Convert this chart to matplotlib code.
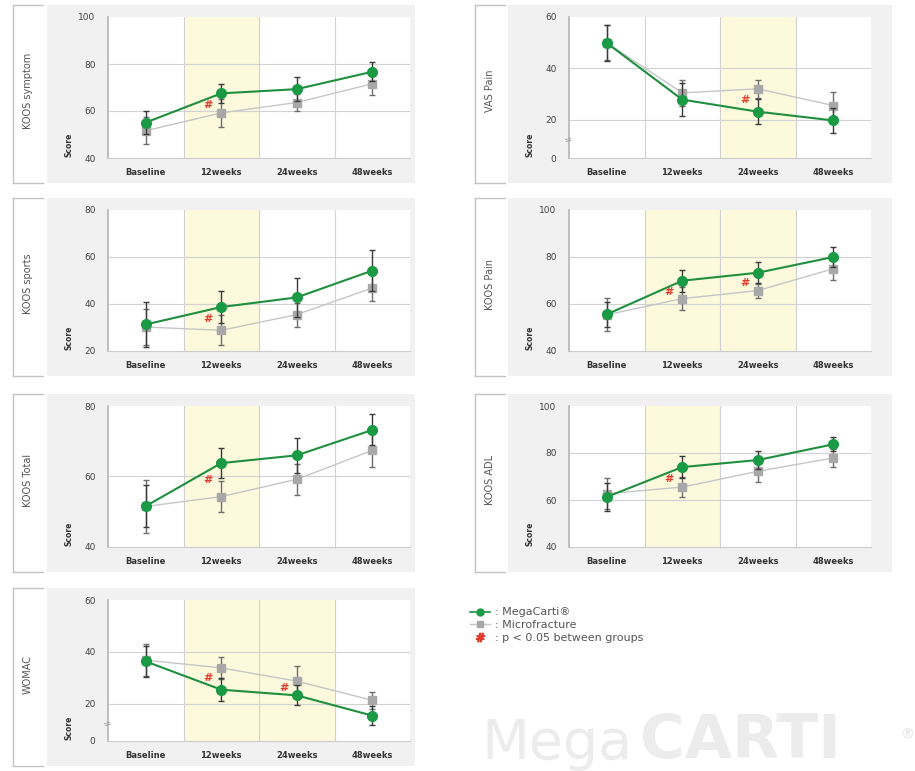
# Librerias

import numpy as np
import matplotlib.pyplot as plt
from matplotlib.lines import Line2D
from matplotlib.transforms import blended_transform_factory

# Datos

categorias = ["Baseline", "12weeks", "24weeks", "48weeks"]

titulos = ["KOOS symptom", "VAS Pain", "KOOS sports", "KOOS Pain",
           "KOOS Total", "KOOS ADL", "WOMAC"]

# MegaCarti (media, desviacion)
mega_symptom = [55.1, 67.5, 69.3, 76.7]
mega_symptom_err = [4.7, 4.0, 5.0, 4.0]
mega_vas = [49.9, 27.9, 23.2, 19.8]
mega_vas_err = [7.0, 6.5, 4.8, 5.0]
mega_sports = [31.3, 38.7, 42.8, 54.2]
mega_sports_err = [9.4, 6.8, 8.3, 8.8]
mega_pain = [55.6, 69.9, 73.3, 80.0]
mega_pain_err = [5.2, 4.7, 4.4, 4.4]
mega_total = [51.6, 63.8, 66.0, 73.2]
mega_total_err = [6.0, 4.2, 5.0, 4.4]
mega_adl = [61.3, 74.0, 77.0, 83.7]
mega_adl_err = [6.1, 4.6, 3.9, 3.0]
mega_womac = [36.3, 25.4, 23.2, 15.4]
mega_womac_err = [6.0, 4.5, 3.9, 3.8]

# Microfracture (media, desviacion)
micro_symptom = [51.6, 59.2, 63.6, 71.6]
micro_symptom_err = [5.7, 5.8, 3.5, 4.8]
micro_vas = [50.0, 30.5, 32.1, 25.6]
micro_vas_err = [6.8, 5.2, 3.6, 5.3]
micro_sports = [30.2, 28.8, 35.5, 46.8]
micro_sports_err = [7.5, 6.4, 5.1, 5.5]
micro_pain = [55.4, 62.3, 65.7, 75.0]
micro_pain_err = [7.0, 4.9, 3.0, 4.8]
micro_total = [51.5, 54.3, 59.2, 67.4]
micro_total_err = [7.5, 4.4, 4.4, 4.6]
micro_adl = [62.7, 65.5, 72.2, 77.9]
micro_adl_err = [6.7, 4.2, 4.5, 4.0]
micro_womac = [36.8, 33.8, 28.7, 21.3]
micro_womac_err = [6.2, 4.1, 6.0, 3.3]

# Marcas de significancia (indice de categoria, altura)
hash_symptom = [(1, 62.5)]
hash_vas = [(2, 27.7)]
hash_sports = [(1, 33.5)]
hash_pain = [(1, 65.2), (2, 68.9)]
hash_total = [(1, 58.9)]
hash_adl = [(1, 68.9)]
hash_womac = [(1, 30.0), (2, 25.9)]

# Periodos resaltados
bandas = [[1], [2], [1], [1, 2], [1], [1], [1, 2]]

# Escalas del eje Y (0 roto en VAS y WOMAC)
yticks = [[40, 60, 80, 100], [5.2, 20, 40, 60], [20, 40, 60, 80],
          [40, 60, 80, 100], [40, 60, 80], [40, 60, 80, 100], [5.6, 20, 40, 60]]
yticklabels = [["40", "60", "80", "100"], ["0", "20", "40", "60"],
               ["20", "40", "60", "80"], ["40", "60", "80", "100"],
               ["40", "60", "80"], ["40", "60", "80", "100"],
               ["0", "20", "40", "60"]]
roto = [False, True, False, False, False, False, True]

megas = [mega_symptom, mega_vas, mega_sports, mega_pain, mega_total, mega_adl, mega_womac]
megas_err = [mega_symptom_err, mega_vas_err, mega_sports_err, mega_pain_err,
             mega_total_err, mega_adl_err, mega_womac_err]
micros = [micro_symptom, micro_vas, micro_sports, micro_pain, micro_total, micro_adl, micro_womac]
micros_err = [micro_symptom_err, micro_vas_err, micro_sports_err, micro_pain_err,
              micro_total_err, micro_adl_err, micro_womac_err]
hashes = [hash_symptom, hash_vas, hash_sports, hash_pain, hash_total, hash_adl, hash_womac]

# Colores
VERDE = "#1f8f3f"
VERDE_MARCA = "#1a9a45"
GRIS_LINEA = "#c6c6c6"
GRIS_MARCA = "#a8a8a8"
AMARILLO = "#fcf9dd"
FONDO = "#f1f1f1"
ROJO = "#e03a2a"

W, H = 915, 771


def caja(x, y, w, h):
    return [x / W, 1 - (y + h) / H, w / W, h / H]


fig = plt.figure(figsize=(W / 100, H / 100), dpi=100)

filas = [5, 198, 394, 588]
columnas = [dict(bx=13, fx=47, fw=368, px=108), dict(bx=475, fx=508, fw=384, px=569)]

x = np.arange(len(categorias))

for k in range(7):
    fila = filas[k // 2]
    col = columnas[k % 2]

    # Fondo gris del panel
    fondo = fig.add_axes(caja(col["fx"], fila, col["fw"], 178))
    fondo.set_facecolor(FONDO)
    fondo.set_xticks([])
    fondo.set_yticks([])
    for s in fondo.spines.values():
        s.set_visible(False)

    # Corchete con el titulo
    bx = col["bx"]
    y0 = 1 - fila / H
    y1 = 1 - (fila + 178) / H
    fig.add_artist(Line2D([bx / W, bx / W], [y0, y1], color="#c4c4c4", lw=1))
    fig.add_artist(Line2D([bx / W, (bx + 30) / W], [y0, y0], color="#c4c4c4", lw=1))
    fig.add_artist(Line2D([bx / W, (bx + 30) / W], [y1, y1], color="#c4c4c4", lw=1))
    fig.text((bx + 15) / W, 1 - (fila + 86) / H, titulos[k], rotation=90,
             ha="center", va="center", fontsize=7, color="#555555")

    # Grafica
    ax = fig.add_axes(caja(col["px"], fila + 12, 302, 141))
    ax.set_facecolor("white")

    for i in bandas[k]:
        ax.axvspan(i - 0.5, i + 0.5, color=AMARILLO, zorder=0, lw=0)
    for b in x[:-1] + 0.5:
        ax.axvline(b, color="#d2d2d2", lw=0.8, zorder=1)

    ax.set_xlim(-0.5, len(categorias) - 0.5)
    ax.set_ylim(yticks[k][0], yticks[k][-1])
    for t in yticks[k][1:-1]:
        ax.axhline(t, color="#d2d2d2", lw=0.8, zorder=1)

    ax.errorbar(x, micros[k], yerr=micros_err[k], color=GRIS_LINEA, lw=1,
                marker="s", ms=6, mfc=GRIS_MARCA, mec=GRIS_MARCA,
                ecolor="#6e6e6e", elinewidth=1, capsize=2, zorder=3)
    ax.errorbar(x, megas[k], yerr=megas_err[k], color=VERDE, lw=1.5,
                marker="o", ms=7, mfc=VERDE_MARCA, mec=VERDE_MARCA,
                ecolor="#3a3a3a", elinewidth=1, capsize=2, zorder=4)

    for i, yv in hashes[k]:
        ax.text(i - 0.17, yv, "#", color=ROJO, fontsize=8, fontweight="bold",
                ha="center", va="center", zorder=5)

    ax.set_xticks(x, categorias, fontsize=6, fontweight="bold", color="#333333")
    ax.set_yticks(yticks[k], yticklabels[k], fontsize=6.5, color="#444444")
    ax.tick_params(length=0)
    ax.tick_params(axis="x", pad=7)
    ax.tick_params(axis="y", pad=9)

    ax.spines["top"].set_visible(False)
    ax.spines["right"].set_visible(False)
    ax.spines["left"].set_color("#b4b4b4")
    ax.spines["left"].set_linewidth(1.2)
    ax.spines["bottom"].set_color("#cccccc")
    ax.spines["bottom"].set_linewidth(0.8)

    ax.text(-0.13, 0.09, "Score", rotation=90, transform=ax.transAxes,
            fontsize=5.5, fontweight="bold", ha="center", va="center", color="#333333")

    if roto[k]:
        trans = blended_transform_factory(ax.transAxes, ax.transData)
        ax.text(0, 12, "=", transform=trans, fontsize=7, color="#999999",
                ha="center", va="center", rotation=15, clip_on=False)

# Leyenda
manijas = [
    Line2D([], [], color=VERDE, lw=1.2, marker="o", ms=5, mfc=VERDE_MARCA, mec=VERDE_MARCA),
    Line2D([], [], color=GRIS_LINEA, lw=1, marker="s", ms=4.5, mfc=GRIS_MARCA, mec=GRIS_MARCA),
    Line2D([], [], ls="none", marker="$\\#$", ms=6, color=ROJO),
]
etiquetas = [": MegaCarti\u00ae", ": Microfracture", ": p < 0.05 between groups"]
fig.legend(manijas, etiquetas, loc="upper left", bbox_to_anchor=(466 / W, 1 - 603 / H),
           frameon=False, fontsize=8, labelcolor="#555555", handlelength=1.8,
           handletextpad=0.4, labelspacing=0.25, borderaxespad=0)

# Logo (al pie, como en la imagen original)
fig.text(482 / W, 0.0, "Mega", fontsize=40, color="#ececec", ha="left", va="bottom")
fig.text(640 / W, 0.0, "CARTI", fontsize=44, fontweight="bold", color="#ececec",
         ha="left", va="bottom")
fig.text(907 / W, 1 - 735 / H, "\u00ae", fontsize=10, color="#e4e4e4", ha="center", va="center")

plt.savefig("out.png", dpi=100)
